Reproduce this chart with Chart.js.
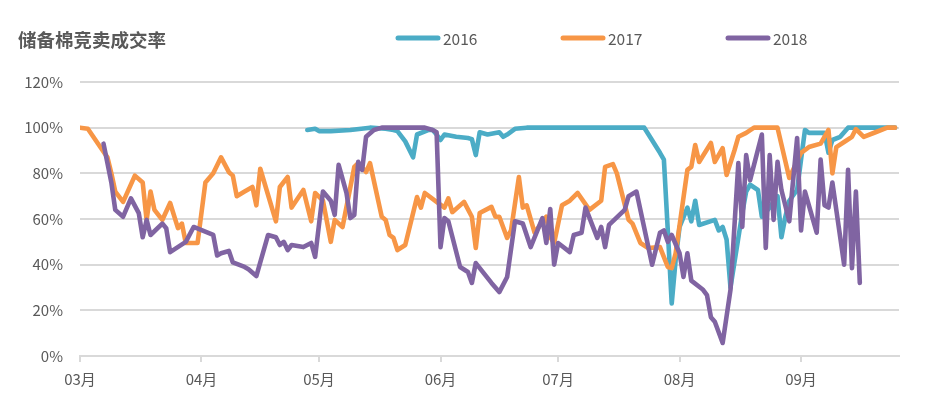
<!DOCTYPE html>
<html>
<head>
<meta charset="utf-8">
<script src="https://cdn.jsdelivr.net/npm/chart.js@4/dist/chart.umd.min.js"></script>
<style>
html,body{margin:0;padding:0;background:#fff;}
#wrap{width:926px;height:398px;position:relative;}
</style>
</head>
<body>
<div id="wrap"><canvas id="c" width="926" height="398"></canvas></div>
<script>
// Days counted from 1 March
const chartTitle = '储备棉竞卖成交率';
const monthStarts = [0, 31, 61, 92, 122, 153, 184];
const monthLabels = ['03月', '04月', '05月', '06月', '07月', '08月', '09月'];
const seriesNames = ['2016', '2017', '2018'];

const days2016 = [58,60,61,64,69,74,78,80,81,83,85,86,89,90,91,92,93,96,99,100,101,102,104,107,108,109,111,114,144,148,149,150,151,152,153,155,156,157,158,162,163,164,165,166,169,170,171,173,174,176,178,179,180,181,183,184,185,186,190,191,192,194,196,208];
const rate2016 = [99,99.5,98.5,98.5,99,100,99.5,99,98.5,94,87,97,99,99,97,94.6,97,96,95.5,95,88,98,97,98,96,97,99.5,100,100,89,86,55,23,42,56.5,65,59,68,57.4,59.6,55,56.5,51,30,62.6,72,75,72.7,61,65,70,52,61,68,72.7,86,99,97.7,97.7,89,94.6,96,100,100];

const days2017 = [0,2,3,5,7,8,9,11,14,16,17,18,19,21,23,25,26,27,30,32,34,36,38,39,40,42,44,45,46,50,51,53,54,57,59,60,62,64,65,67,70,71,73,74,77,78,79,80,81,83,86,87,88,91,93,94,95,98,100,101,102,105,106,107,109,110,112,113,114,116,119,120,121,123,125,127,130,133,134,136,137,140,141,143,145,148,150,151,152,155,156,157,158,161,162,164,165,167,168,170,172,178,181,184,186,189,191,192,193,195,197,198,200,203,206,208];
const rate2017 = [100,99.5,97,92,87,80,72,67.5,79,76,59.6,72,64,59.6,67,56,58,49.5,49.5,76,80,87,80.5,79,70,72,74,66,82,59,74,78.4,65,72.7,59,71.4,68,50,59.6,56.5,82.8,84.5,80.6,84.5,61,59.6,53,51.7,46.4,48.6,69.6,65,71.4,67.5,65,69,63,67.5,61,47.3,62.6,65.3,61,61,51.7,55,78.4,65,66,54,61,52,49.5,66,68,71.4,64,68,82.8,84,80,59.6,58,49.5,47.3,47.7,39,38.5,45,81.5,82.8,92.4,85,93.3,85,91,79.3,90,96,97.7,100,100,78,89,91.5,93,99,80,91.5,93.7,96,99.4,96,98,100,100];

const days2018 = [6,7,8,9,11,13,15,16,17,18,21,22,23,27,29,34,35,36,38,39,42,43,45,48,50,51,52,53,54,57,59,60,62,64,65,66,68,69,70,71,72,73,75,77,88,90,91,92,93,94,97,99,100,101,105,107,109,111,113,115,118,119,120,121,122,125,126,128,129,132,133,134,135,139,140,142,146,148,149,150,151,153,154,155,156,159,160,161,162,164,166,168,169,170,171,174,175,176,177,178,179,181,183,184,185,188,189,190,191,192,195,196,197,198,199];
const rate2018 = [93,84.5,76,64,61,69,62.6,52,59.6,53,58,56,45.5,50,56.5,53,44,45,46,41,39,38,35,53,52,48.6,50,46.4,48.6,47.7,49.5,43.4,72,68,61.8,83.7,71.4,60.4,61.8,85,81.5,96,99,100,100,99,98,47.7,60.4,59,39,36.8,32,40.7,32,28,34.6,59,58,47.7,60.4,49.5,64.4,40,49.5,45.5,53,54,65,51.7,56.5,47.7,57.4,64,70,72,40,54,55,50,53,45,34.6,45,33,29,26.7,17,15,5.7,29,84.5,56.5,88,77,97,47.3,88,59.6,85,72.7,59,95.5,55,72,54,86,66,65,76,40,81.5,38.5,72,32];

const colors = ['#4bacc6', '#f79646', '#8064a2'];
const textColor = '#595959';
const gridColor = '#d9d9d9';
const fontFamily = '"Noto Sans CJK SC", "Noto Sans", sans-serif';

function pts(d, v) { return d.map((x, i) => ({x: x, y: v[i]})); }

const headerPlugin = {
  id: 'header',
  afterDraw(chart) {
    const ctx = chart.ctx;
    ctx.save();
    ctx.fillStyle = textColor;
    ctx.font = 'bold 18.5px ' + fontFamily;
    ctx.textBaseline = 'middle';
    ctx.textAlign = 'left';
    ctx.fillText(chartTitle, 18, 40);
    const startX = 396, step = 165, lineLen = 44, y = 38;
    chart.data.datasets.forEach((ds, i) => {
      const x0 = startX + i * step;
      ctx.strokeStyle = ds.borderColor;
      ctx.lineWidth = 5;
      ctx.lineCap = 'round';
      ctx.beginPath();
      ctx.moveTo(x0 + 2, y);
      ctx.lineTo(x0 + lineLen - 2, y);
      ctx.stroke();
      ctx.fillStyle = textColor;
      ctx.font = '15.5px ' + fontFamily;
      ctx.textAlign = 'left';
      ctx.fillText(ds.label, x0 + lineLen + 3, y + 1);
    });
    ctx.restore();
  }
};

const mk = (i, d, v, order) => ({
  label: seriesNames[i],
  data: pts(d, v),
  borderColor: colors[i],
  backgroundColor: colors[i],
  borderWidth: 4.6,
  pointRadius: 0,
  tension: 0,
  borderJoinStyle: 'round',
  borderCapStyle: 'round',
  fill: false,
  order: order
});

new Chart(document.getElementById('c'), {
  type: 'line',
  data: {
    datasets: [
      mk(0, days2016, rate2016, 2),
      mk(1, days2017, rate2017, 1),
      mk(2, days2018, rate2018, 0)
    ]
  },
  options: {
    responsive: false,
    animation: false,
    devicePixelRatio: 1,
    layout: {padding: {top: 82, right: 27, bottom: 0, left: 0}},
    plugins: {legend: {display: false}, tooltip: {enabled: false}, title: {display: false}},
    scales: {
      x: {
        type: 'linear',
        min: 0,
        max: 209,
        afterBuildTicks(scale) { scale.ticks = monthStarts.map(v => ({value: v})); },
        afterFit(scale) { scale.height = 42; },
        ticks: {
          autoSkip: false,
          maxRotation: 0,
          color: textColor,
          font: {family: fontFamily, size: 15},
          padding: 8,
          callback(value) { const k = monthStarts.indexOf(value); return k >= 0 ? monthLabels[k] : ''; }
        },
        grid: {drawOnChartArea: false, drawTicks: true, tickLength: 6, color: gridColor, lineWidth: 2},
        border: {display: true, color: gridColor, width: 2}
      },
      y: {
        min: 0,
        max: 120,
        afterFit(scale) { scale.width = 80; },
        ticks: {
          stepSize: 20,
          color: textColor,
          font: {family: fontFamily, size: 15},
          padding: 17,
          callback(v) { return v + '%'; }
        },
        grid: {color: gridColor, lineWidth: 2, drawTicks: false},
        border: {display: false}
      }
    }
  },
  plugins: [headerPlugin]
});
</script>
</body>
</html>
